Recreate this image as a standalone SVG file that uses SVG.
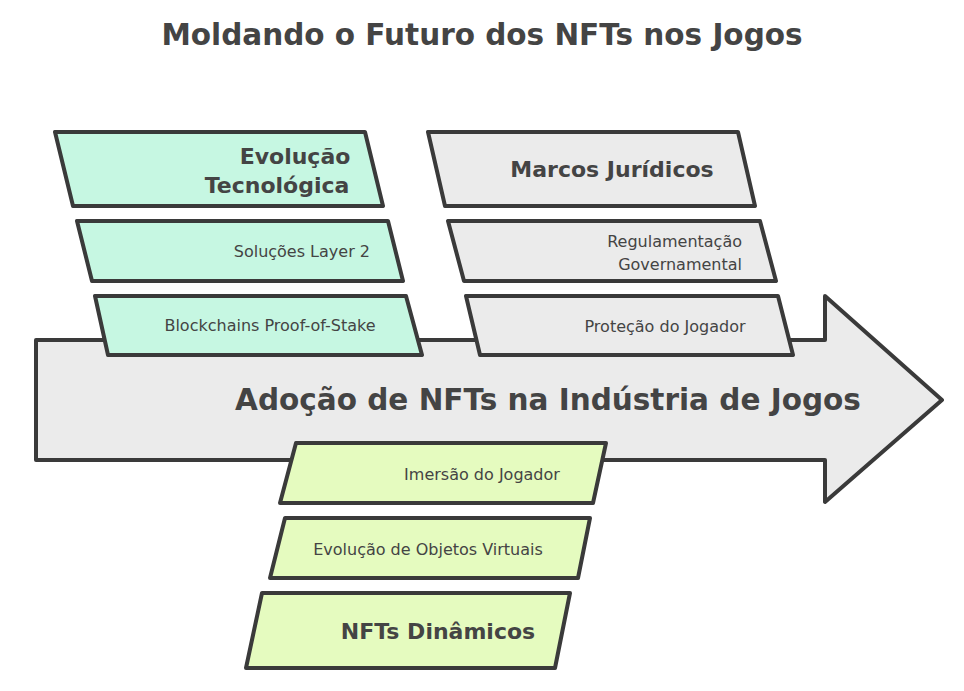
<svg xmlns="http://www.w3.org/2000/svg" width="964" height="691" viewBox="0 0 964 691">
<style>
.s{stroke:#3a3a3a;stroke-width:4;stroke-linejoin:round}
.g{fill:#ebebeb}.m{fill:#c6f7e2}.l{fill:#e5fbbf}
text{font-family:"DejaVu Sans","Open Sans",sans-serif;fill:#444}
.b{font-weight:bold}
.sm{font-size:16px}
.md{font-size:22px;font-weight:bold}
</style>
<rect width="964" height="691" fill="#fff"/>
<text x="482" y="45" text-anchor="middle" class="b" font-size="29.5">Moldando o Futuro dos NFTs nos Jogos</text>
<g id="main-arrow">
<polygon class="s g" points="36,340 825,340 825,296 942,400 825,502 825,460 36,460"/>
<text x="548" y="410" text-anchor="middle" class="b" font-size="29.5">Adoção de NFTs na Indústria de Jogos</text>
</g>
<g id="connectors"></g>
<g id="evolucao-tecnologica">
<polygon class="s m" points="55,132 365,132 383,206 73,206"/>
<text x="295" y="164" text-anchor="middle" class="md">Evolução</text>
<text x="277" y="193" text-anchor="middle" class="md">Tecnológica</text>
</g>
<g id="solucoes-layer2">
<polygon class="s m" points="77,221 388,221 403,281 92,281"/>
<text x="370" y="257" text-anchor="end" class="sm">Soluções Layer 2</text>
</g>
<g id="blockchains-pos">
<polygon class="s m" points="95,296 406,296 422,355 108,355"/>
<text x="270" y="331" text-anchor="middle" class="sm">Blockchains Proof-of-Stake</text>
</g>
<g id="marcos-juridicos">
<polygon class="s g" points="428,132 738,132 755,206 445,206"/>
<text x="612" y="177" text-anchor="middle" class="md">Marcos Jurídicos</text>
</g>
<g id="regulamentacao">
<polygon class="s g" points="448,221 760,221 776,281 464,281"/>
<text x="742" y="247" text-anchor="end" class="sm">Regulamentação</text>
<text x="742" y="270" text-anchor="end" class="sm">Governamental</text>
</g>
<g id="protecao-jogador">
<polygon class="s g" points="466,296 778,296 793,355 480,355"/>
<text x="665" y="332" text-anchor="middle" class="sm">Proteção do Jogador</text>
</g>
<g id="imersao-jogador">
<polygon class="s l" points="296,443 606,443 593,503 280,503"/>
<text x="482" y="480" text-anchor="middle" class="sm">Imersão do Jogador</text>
</g>
<g id="evolucao-objetos">
<polygon class="s l" points="285,518 590,518 578,578 270,578"/>
<text x="428" y="555" text-anchor="middle" class="sm">Evolução de Objetos Virtuais</text>
</g>
<g id="nfts-dinamicos">
<polygon class="s l" points="262,593 570,593 555,668 246,668"/>
<text x="438" y="639" text-anchor="middle" class="md">NFTs Dinâmicos</text>
</g>
</svg>
